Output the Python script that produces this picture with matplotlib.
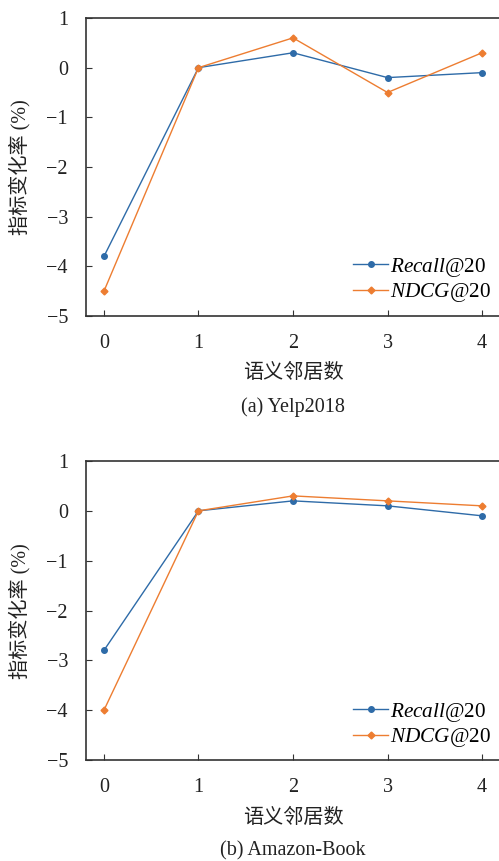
import matplotlib
matplotlib.use("Agg")
import matplotlib.pyplot as plt

x_vals = [0, 1, 2, 3, 4]
yelp_recall = [-3.8, 0.0, 0.3, -0.2, -0.1]
yelp_ndcg = [-4.5, 0.0, 0.6, -0.5, 0.3]
book_recall = [-2.8, 0.0, 0.2, 0.1, -0.1]
book_ndcg = [-4.0, 0.0, 0.3, 0.2, 0.1]
yticks = [1, 0, -1, -2, -3, -4, -5]
captions = ["(a) Yelp2018", "(b) Amazon-Book"]
xlabel = "语义邻居数"
ylabel = "指标变化率 (%)"

plt.rcParams['font.family'] = ['Liberation Serif', 'Noto Sans CJK SC']
plt.rcParams['mathtext.fontset'] = 'custom'
plt.rcParams['mathtext.it'] = 'Liberation Serif:italic'
plt.rcParams['mathtext.rm'] = 'Liberation Serif'

blue = '#2E6BA8'
orange = '#ED7D31'
txt = '#222222'
FS = 14.5

fig = plt.figure(figsize=(4.99, 8.61), dpi=100)
W, H = 499, 861

def add_ax(top_px, bot_px):
    left = 86 / W
    right = 505 / W
    return fig.add_axes([left, 1 - bot_px / H, right - left, (bot_px - top_px) / H])

panels = [(18, 316, yelp_recall, yelp_ndcg, 373, 407, 267, 167),
          (461, 760, book_recall, book_ndcg, 818, 851, 712, 611)]

for i, (t, b, rec, ndcg, xl_y, cap_y, leg_y, yl_y) in enumerate(panels):
    ax = add_ax(t, b)
    ax.plot(x_vals, rec, color=blue, marker='o', markersize=4, linewidth=1.0,
            label=r'$\it{Recall}$@20')
    ax.plot(x_vals, ndcg, color=orange, marker='D', markersize=3.5, linewidth=1.0,
            label=r'$\it{NDCG}$@20')
    ax.set_xlim(-0.19, 4.243)
    ax.set_ylim(-5, 1)
    ax.set_yticks(yticks)
    ax.set_yticklabels([str(v).replace('-', '\u2212') for v in yticks])
    ax.set_xticks(x_vals)
    ax.tick_params(axis='y', direction='in', length=4, labelsize=FS, pad=13,
                   colors='#333333', labelcolor=txt)
    ax.tick_params(axis='x', direction='in', length=4, labelsize=FS, pad=13,
                   colors='#333333', labelcolor=txt)
    for s in ['left', 'top', 'bottom']:
        ax.spines[s].set_linewidth(1.2)
        ax.spines[s].set_color('#333333')
    ax.spines['right'].set_visible(False)
    fig.text(20 / W, 1 - yl_y / H, ylabel, rotation=90, ha='center', va='center',
             fontsize=FS, color=txt)
    fig.text(293 / W, 1 - xl_y / H, xlabel, ha='center', va='center', fontsize=FS,
             color=txt)
    fig.text(293 / W, 1 - cap_y / H, captions[i], ha='center', va='center', fontsize=FS,
             color=txt)
    ax.legend(loc='center right', bbox_to_anchor=(502 / W, 1 - (leg_y + 13) / H),
              bbox_transform=fig.transFigure, frameon=False, fontsize=15.3,
              handlelength=1.65, handletextpad=0.1, labelspacing=0.12, borderpad=0)

fig.savefig('out.png', dpi=100)
